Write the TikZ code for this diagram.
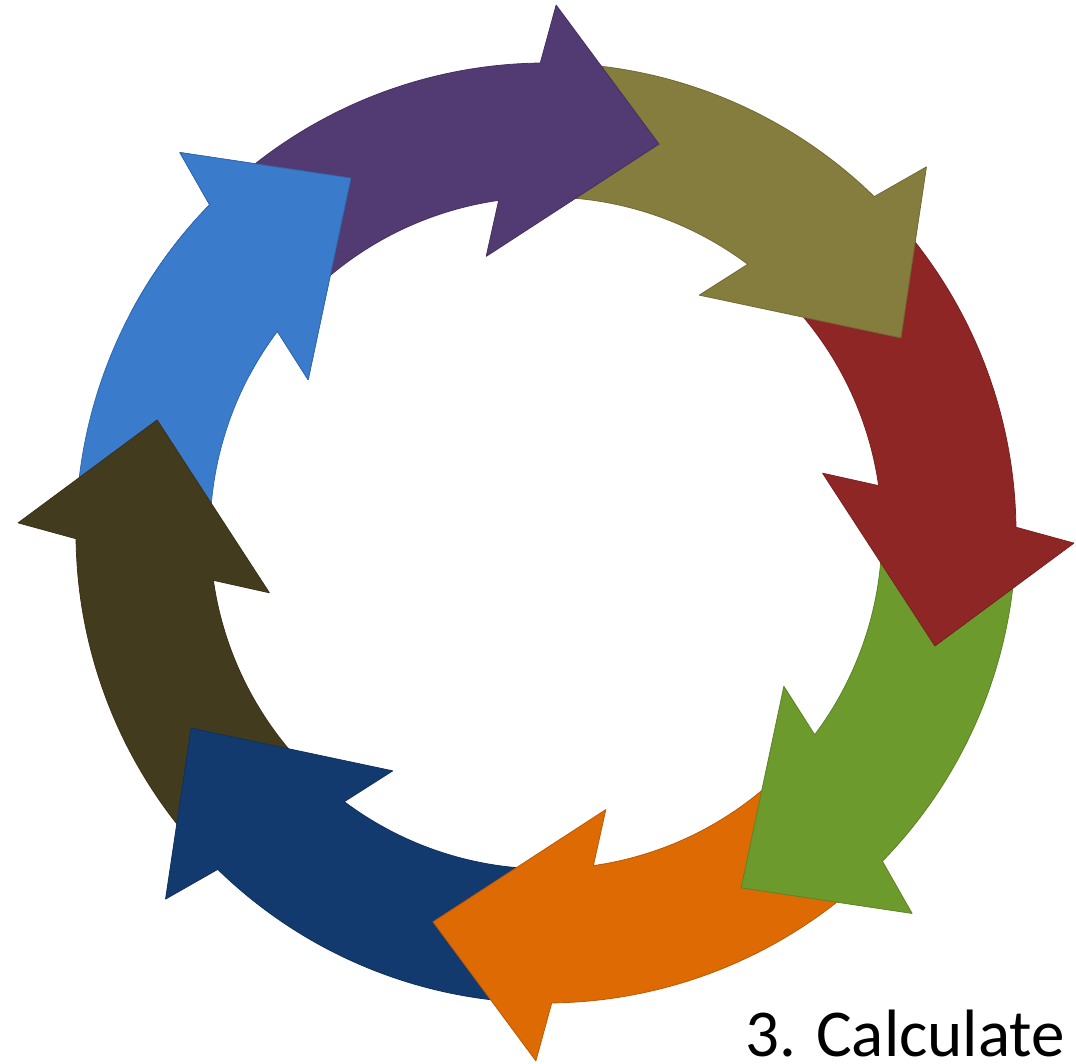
\documentclass[tikz,border=0pt]{standalone}
\usepackage{fontspec}
\setmainfont{Carlito}
\definecolor{cpurple}{HTML}{523A72}
\definecolor{colive}{HTML}{857D3E}
\definecolor{cred}{HTML}{8F2626}
\definecolor{cgreen}{HTML}{6D9A2C}
\definecolor{corange}{HTML}{DD6A02}
\definecolor{cnavy}{HTML}{133A6E}
\definecolor{cdkolive}{HTML}{433B1E}
\definecolor{cblue}{HTML}{3A7BCB}
\newcommand\cyclearrow[2]{%
  \filldraw[arrowshape, fill=#2, draw=#2!85!black]
    (#1+57:470pt) arc[start angle=#1+57, end angle=#1+16.9, radius=470pt]
    -- (#1+15.1:528pt) -- (#1:405pt) -- (#1+28.4:283pt) -- (#1+24.3:336pt)
    arc[start angle=#1+24.3, end angle=#1+57, radius=336pt] -- cycle;
}
\begin{document}
\begin{tikzpicture}[arrowshape/.style={line width=0.8pt, line join=round}]
\useasboundingbox (0,0) rectangle (1076pt,1064pt);
\begin{scope}[shift={(546pt,531pt)}]
  \cyclearrow{118.8}{cblue}
  \cyclearrow{163.8}{cdkolive}
  \cyclearrow{208.8}{cnavy}
  \cyclearrow{253.8}{corange}
  \cyclearrow{-61.2}{cgreen}
  \cyclearrow{-16.2}{cred}
  \cyclearrow{28.8}{colive}
  \cyclearrow{73.8}{cpurple}
  \begin{scope}
    \clip (0,0) -- (115:700pt) arc[start angle=115, end angle=152, radius=700pt] -- cycle;
    \cyclearrow{118.8}{cblue}
  \end{scope}
\end{scope}
\node[anchor=base west, inner sep=0pt, text depth=0pt, font=\fontsize{67pt}{80pt}\selectfont] (label) at (745pt,7pt) {3. Calculate};
\end{tikzpicture}
\end{document}
